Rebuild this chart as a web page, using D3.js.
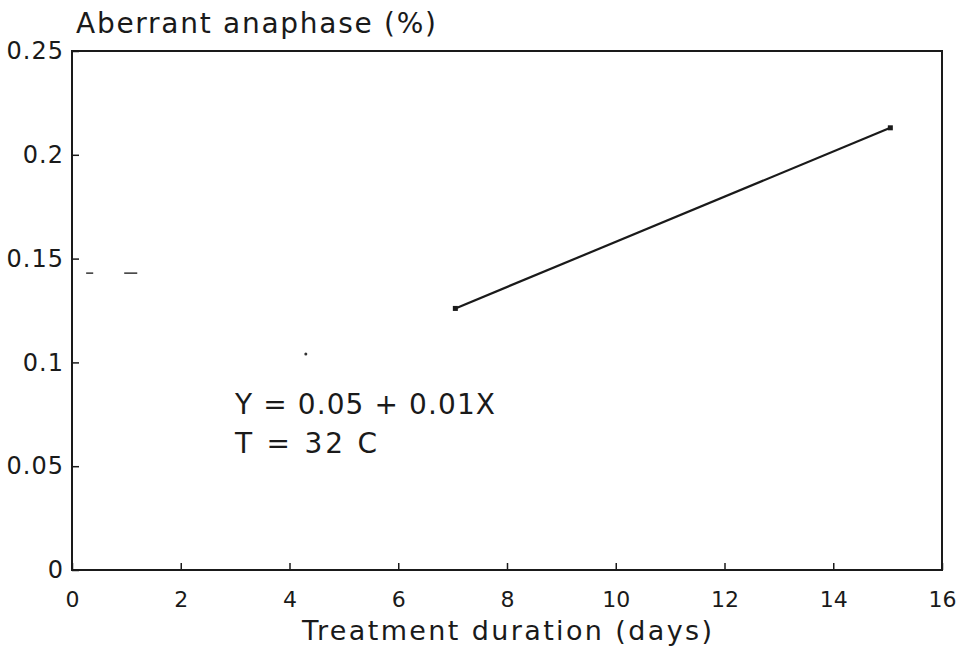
<!DOCTYPE html>
<html>
<head>
<meta charset="utf-8">
<script src="https://cdn.jsdelivr.net/npm/d3@7"></script>
<style>
  body { margin: 0; background: #fff; }
  svg text { font-family: "DejaVu Sans", "Liberation Sans", sans-serif; fill: #1a1a1a; }
</style>
</head>
<body>
<svg id="chart" width="956" height="653"></svg>
<script>
'use strict';

// treatment duration (days) vs aberrant anaphase (%)
var days = [7.05, 15.05];
var aberrant = [0.126, 0.213];

// faint stray marks left on the scanned page
var strayDashes = [[0.26, 0.39, 0.143], [0.96, 1.2, 0.143]];
var strayDots = [[4.3, 0.104]];

var xTicks = [0, 2, 4, 6, 8, 10, 12, 14, 16];
var yTicks = [0, 0.05, 0.1, 0.15, 0.2, 0.25];
var yTickLabels = ['0', '0.05', '0.1', '0.15', '0.2', '0.25'];

var notes = ['Y = 0.05 + 0.01X', 'T = 32 C'];

var margin = { top: 51, right: 14, bottom: 83, left: 72 };
var width = 956 - margin.left - margin.right;
var height = 653 - margin.top - margin.bottom;

var svg = d3.select('#chart');
var g = svg.append('g')
  .attr('transform', 'translate(' + margin.left + ',' + margin.top + ')');

var x = d3.scaleLinear().domain([0, 16]).range([0, width]);
var y = d3.scaleLinear().domain([0, 0.25]).range([height, 0]);

// frame
g.append('rect')
  .attr('width', width)
  .attr('height', height)
  .attr('fill', 'none')
  .attr('stroke', '#1a1a1a')
  .attr('stroke-width', 2);

// x axis, ticks pointing inward
var xAxis = d3.axisBottom(x)
  .tickValues(xTicks)
  .tickSizeInner(-7)
  .tickSizeOuter(0)
  .tickPadding(21)
  .tickFormat(d3.format('d'));

var gx = g.append('g')
  .attr('transform', 'translate(0,' + height + ')')
  .call(xAxis);
gx.select('.domain').remove();
gx.selectAll('line').attr('stroke', '#1a1a1a').attr('stroke-width', 1.5);
gx.selectAll('text')
  .attr('font-size', 22)
  .attr('font-family', '"Liberation Sans", sans-serif')
  .attr('fill', '#1a1a1a');

// y axis, ticks pointing inward
var yAxis = d3.axisLeft(y)
  .tickValues(yTicks)
  .tickSizeInner(-7)
  .tickSizeOuter(0)
  .tickPadding(8)
  .tickFormat((d, i) => yTickLabels[i]);

var gy = g.append('g').call(yAxis);
gy.select('.domain').remove();
gy.selectAll('line').attr('stroke', '#1a1a1a').attr('stroke-width', 1.5);
gy.selectAll('text')
  .attr('font-size', 24)
  .attr('letter-spacing', 1)
  .attr('fill', '#1a1a1a');

// axis titles
svg.append('text')
  .attr('x', 76)
  .attr('y', 33)
  .attr('font-size', 28)
  .attr('textLength', 360)
  .attr('lengthAdjust', 'spacing')
  .text('Aberrant anaphase (%)');

svg.append('text')
  .attr('x', margin.left + width / 2 - 205)
  .attr('y', 640)
  .attr('font-size', 27)
  .attr('textLength', 410)
  .attr('lengthAdjust', 'spacing')
  .text('Treatment duration (days)');

// regression line
var pts = days.map((d, i) => [d, aberrant[i]]);
g.append('path')
  .datum(pts)
  .attr('fill', 'none')
  .attr('stroke', '#1a1a1a')
  .attr('stroke-width', 2.2)
  .attr('d', d3.line().x(d => x(d[0])).y(d => y(d[1])));

g.selectAll('.pt')
  .data(pts)
  .enter().append('rect')
  .attr('class', 'pt')
  .attr('x', d => x(d[0]) - 2.5)
  .attr('y', d => y(d[1]) - 2.5)
  .attr('width', 5)
  .attr('height', 5)
  .attr('fill', '#1a1a1a');

// stray marks
g.selectAll('.stray')
  .data(strayDashes)
  .enter().append('line')
  .attr('class', 'stray')
  .attr('x1', d => x(d[0]))
  .attr('x2', d => x(d[1]))
  .attr('y1', d => y(d[2]))
  .attr('y2', d => y(d[2]))
  .attr('stroke', '#333')
  .attr('stroke-width', 1.5);

g.selectAll('.dot')
  .data(strayDots)
  .enter().append('circle')
  .attr('class', 'dot')
  .attr('cx', d => x(d[0]))
  .attr('cy', d => y(d[1]))
  .attr('r', 1.5)
  .attr('fill', '#333');

// equation note
var noteLen = [260, 142];
g.selectAll('.note')
  .data(notes)
  .enter().append('text')
  .attr('class', 'note')
  .attr('x', 235 - margin.left)
  .attr('y', (d, i) => 414 - margin.top + i * 39)
  .attr('font-size', 28)
  .attr('textLength', (d, i) => noteLen[i])
  .attr('lengthAdjust', 'spacing')
  .text(d => d);
</script>
</body>
</html>
